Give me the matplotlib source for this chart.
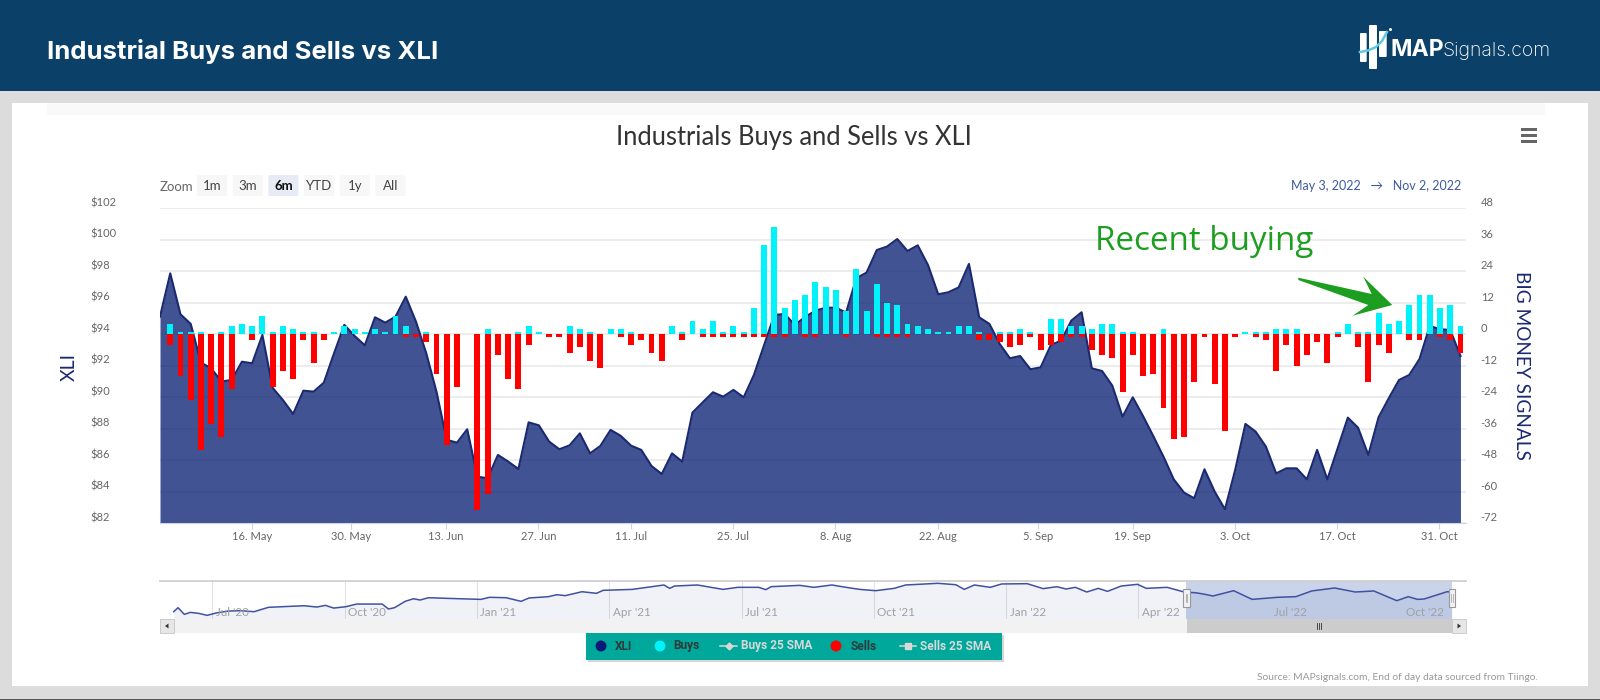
#!/usr/bin/env python3
"""Industrial buys and sells vs XLI, with the navigator strip underneath."""

import matplotlib
matplotlib.use('Agg')
import matplotlib.pyplot as plt
from matplotlib.patches import FancyBboxPatch, Polygon, Rectangle

W, H = 1600, 700

# --- Data ---

xli_close = [
    95.12, 97.87, 95.27, 94.66, 92.20, 91.84, 91.00, 91.10, 92.26, 92.16,
    93.96, 90.60, 89.83, 88.94, 90.42, 90.36, 90.93, 92.80, 94.60, 93.90,
    93.30, 95.08, 94.74, 95.12, 96.39, 94.80, 92.80, 90.36, 87.30, 87.12,
    87.97, 84.96, 84.86, 86.34, 85.92, 85.45, 88.41, 88.22, 87.19, 86.70,
    86.95, 87.71, 86.44, 86.91, 87.93, 87.55, 86.93, 86.66, 85.64, 85.13,
    86.44, 85.92, 89.03, 89.68, 90.32, 90.04, 90.47, 90.00, 91.42, 93.32,
    95.23, 95.29, 94.60, 95.10, 95.50, 95.69, 95.69, 95.38, 97.56, 97.92,
    99.35, 99.57, 100.05, 99.29, 99.65, 98.40, 96.54, 96.67, 96.98, 98.47,
    95.08, 94.66, 93.39, 92.48, 92.62, 91.78, 91.90, 93.32, 93.60, 94.87,
    95.40, 91.84, 91.67, 90.74, 88.77, 90.00, 88.81, 87.54, 86.23, 84.79,
    83.95, 83.59, 85.43, 84.01, 82.89, 85.39, 88.31, 87.82, 86.87, 85.17,
    85.49, 85.49, 84.79, 86.66, 84.79, 86.76, 88.71, 88.07, 86.34, 88.73,
    89.94, 91.10, 91.42, 92.43, 94.53, 94.32, 94.28, 92.62,
]

buys = [
    0, 4, 1, 1, 1, 0, 1, 3, 4, 3, 7,
    1, 3, 2, 1, 1, 0, 1, 3, 2, 1,
    2, 1, 7, 3, 0, 1, 0, 0, 0, 0,
    0, 2, 0, 0, 1, 3, 1, 0, 0, 3,
    2, 1, 0, 2, 2, 1, 0, 0, 0, 3,
    1, 5, 2, 5, 1, 3, 1, 10, 34, 41,
    10, 13, 15, 20, 18, 17, 9, 25, 9, 19,
    12, 11, 4, 3, 2, 1, 1, 3, 3, 1,
    0, 1, 1, 2, 1, 0, 6, 6, 3, 3,
    2, 4, 4, 1, 1, 0, 0, 2, 0, 0,
    0, 0, 0, 0, 0, 1, 1, 1, 2, 2,
    2, 0, 0, 0, 1, 4, 1, 1, 8, 4,
    5, 11, 15, 15, 10, 11, 3,
]

sells = [
    0, -4, -16, -25, -44, -34, -39, -21, 0, -2, 0,
    -20, -14, -17, -2, -11, -2, 0, 0, 0, 0,
    0, 0, 0, -1, -1, -3, -15, -42, -20, 0,
    -67, -61, -8, -17, -21, -4, 0, -1, -1, -7,
    -5, -10, -13, 0, -1, -4, -2, -7, -10, 0,
    -2, 0, -1, -1, -1, -1, -1, -1, -1, -1,
    -1, 0, -1, -1, 0, 0, -1, 0, 0, -1,
    -1, -1, -1, 0, 0, 0, 0, 0, 0, -2,
    -2, -3, -5, -4, -1, -6, -4, -3, -1, -1,
    -6, -8, -9, -22, -8, -16, -15, -28, -40, -39,
    -18, -1, -19, -37, -1, 0, -1, -2, -14, -4,
    -12, -8, -3, -11, -1, 0, -5, -18, -4, -7,
    0, -2, -2, 0, -1, -2, -7,
]

date_ticks = [8.95, 18.65, 27.9, 36.95, 46.0, 55.95, 65.95, 75.95, 85.75, 95.0, 105.0, 114.95, 124.95]
date_labels = ['16. May', '30. May', '13. Jun', '27. Jun', '11. Jul', '25. Jul', '8. Aug',
               '22. Aug', '5. Sep', '19. Sep', '3. Oct', '17. Oct', '31. Oct']
price_ticks = list(range(82, 103, 2))
signal_ticks = list(range(-72, 49, 12))

# navigator: months since Jul '20 and the long-run close
nav_months = [
    -0.88, -0.78, -0.64, -0.50, -0.31, -0.12, 0.08, 0.36, 0.65, 0.94, 1.27, 1.60, 2.08, 2.37,
    2.56, 2.75, 3.03, 3.27, 3.85, 3.99, 4.13, 4.37, 4.56, 4.71, 4.90, 5.32, 6.09, 6.28, 6.66,
    7.00, 7.18, 7.62, 7.81, 8.00, 8.38, 8.71, 8.86, 9.52, 10.24, 10.37, 10.48, 11.00, 11.58,
    11.91, 12.39, 12.55, 12.67, 13.32, 13.64, 14.05, 14.37, 14.68, 15.04, 15.46, 15.72, 16.45,
    16.86, 17.05, 17.28, 17.64, 17.90, 18.48, 18.84, 19.15, 19.36, 19.57, 19.83, 20.09, 20.30,
    20.61, 20.98, 21.18, 21.65, 22.07, 22.28, 22.48, 22.69, 23.16, 23.58, 24.15, 24.57, 24.93,
    25.45, 25.92, 26.34, 26.86, 27.12, 27.33, 27.48, 28.00, 28.11,
]
nav_close = [
    71.1, 75.4, 68.3, 70.4, 69.3, 67.2, 69.7, 71.8, 72.2, 71.1, 75.8, 76.5, 77.5, 76.1,
    77.9, 75.0, 76.5, 79.3, 79.3, 74.0, 75.4, 82.2, 85.0, 83.6, 86.1, 85.4, 84.3, 86.5, 86.1,
    82.2, 85.8, 87.2, 89.3, 88.3, 92.5, 90.8, 94.0, 95.0, 99.7, 96.1, 98.6, 99.7, 95.0,
    97.2, 97.2, 94.7, 97.9, 99.3, 97.2, 99.7, 97.2, 95.0, 93.6, 96.1, 99.7, 101.5,
    100.0, 95.0, 99.7, 97.2, 100.8, 101.1, 95.8, 97.9, 95.4, 97.2, 92.2, 96.1, 92.9,
    98.6, 100.4, 96.1, 97.2, 91.8, 91.5, 90.0, 87.9, 93.6, 84.3, 86.5, 87.2, 93.3,
    96.5, 92.2, 93.3, 82.9, 87.2, 84.3, 84.7, 92.5, 92.2,
]
nav_ticks = [0, 3, 6, 9, 12, 15, 18, 21, 24, 27]
nav_labels = ["Jul '20", "Oct '20", "Jan '21", "Apr '21", "Jul '21", "Oct '21",
              "Jan '22", "Apr '22", "Jul '22", "Oct '22"]

range_buttons = ['1m', '3m', '6m', 'YTD', '1y', 'All']

# --- Colours ---

HEADER = '#0b4169'
PAGE_GREY = '#dcdcdc'
NAVY = '#1b2a70'
AREA = '#112877'
CYAN = '#00f2fa'
RED = '#ff0000'
GRID = '#ececec'
AXIS_LINE = '#ccd6eb'
LABEL = '#666666'
GREEN = '#1e9e20'
TEAL = '#00a79b'


def px_axes(fig, left, top, right, bottom, **kw):
    """Axes placed by pixel edges, y counted from the top of the figure."""
    return fig.add_axes([left / W, 1 - bottom / H, (right - left) / W, (bottom - top) / H], **kw)


fig = plt.figure(figsize=(W / 100, H / 100), dpi=100, facecolor=PAGE_GREY)
plt.rcParams['font.family'] = 'Lato'

# --- Page background ---
bg = px_axes(fig, 0, 0, W, H, zorder=0)
bg.set_xlim(0, W)
bg.set_ylim(H, 0)
bg.axis('off')
bg.add_patch(Rectangle((12, 103), 1576, 583, fc='white', ec='none'))
bg.add_patch(Rectangle((47, 103), 1498, 12, fc='#f9f9f9', ec='none'))
bg.add_patch(Rectangle((0, 0), W, 91, fc=HEADER, ec='none'))
bg.add_patch(Rectangle((0, 698.5), W, 1.5, fc='#555555', ec='none'))
bg.text(47, 51, 'Industrial Buys and Sells vs XLI', color='white', fontsize=18.5,
        fontweight='bold', family='Inter', va='center')
bg.text(794, 137, 'Industrials Buys and Sells vs XLI', color='#333333', fontsize=18.4,
        ha='center', va='center')
bg.text(160, 187, 'Zoom', color='#666666', fontsize=9.5, va='center')

button_left = 197
for i, label in enumerate(range_buttons):
    selected = label == '6m'
    bg.add_patch(FancyBboxPatch((button_left + 35.7 * i + 1, 176), 28, 19, boxstyle='round,pad=1',
                                fc='#e6ebf5' if selected else '#f7f7f7', ec='none'))
    bg.text(button_left + 35.7 * i + 15, 186.5, label, ha='center', va='center', fontsize=9.5,
            color='#111111' if selected else '#444444', fontweight='bold' if selected else 'normal')

bg.text(1461, 186, 'May 3, 2022   \u2192   Nov 2, 2022', ha='right', va='center', fontsize=9,
        color='#3d5aa0', family=['Lato', 'DejaVu Sans'])
bg.text(69, 367, 'XLI', color=NAVY, fontsize=14, rotation=90, ha='center', va='center')
bg.text(1521, 365, 'BIG MONEY SIGNALS', color=NAVY, fontsize=13.7, rotation=270, ha='center', va='center')
bg.text(1538, 677, 'Source: MAPsignals.com, End of day data sourced from Tiingo.', color='#999999',
        fontsize=7.4, ha='right', va='center')
for y in [129, 135, 141]:
    bg.add_patch(Rectangle((1521, y - 1.3), 16, 2.8, fc='#666666', ec='none'))

# --- Main chart ---
ax = px_axes(fig, 160, 208.3, 1466, 523.3, zorder=2)
ax.patch.set_alpha(0)
ax.set_xlim(0, 127.54)
ax.set_ylim(82, 102)
days = list(range(len(xli_close)))
ax.set_yticks(price_ticks, [f'${v}' for v in price_ticks])
ax.grid(axis='y', color=GRID, lw=1.3)
ax.set_axisbelow(True)
ax.fill_between(days, xli_close, 82, color=AREA, alpha=0.8, lw=0, zorder=2)
ax.plot(days, xli_close, color=NAVY, lw=1.5, zorder=3)
ax.set_xticks(date_ticks, date_labels)
ax.tick_params(axis='x', length=4.5, color=AXIS_LINE, labelcolor=LABEL, labelsize=8, pad=0.8)
ax.tick_params(axis='y', length=0, labelcolor=LABEL, labelsize=8, pad=50)
plt.setp(ax.get_yticklabels(), ha='left', va='bottom')
for name in ['top', 'left', 'right']:
    ax.spines[name].set_visible(False)
ax.spines['bottom'].set_color(AXIS_LINE)

ax_sig = ax.twinx()
ax_sig.set_zorder(3)
ax_sig.patch.set_alpha(0)
ax_sig.set_ylim(-72, 48)
ax_sig.bar(days, sells, width=0.58, color=RED, lw=0)
ax_sig.bar(days, buys, width=0.58, color=CYAN, lw=0)
ax_sig.set_yticks(signal_ticks, [str(v) for v in signal_ticks])
ax_sig.tick_params(axis='y', length=0, labelcolor=LABEL, labelsize=8, pad=10.6)
plt.setp(ax_sig.get_yticklabels(), ha='left', va='bottom')
for spine in ax_sig.spines.values():
    spine.set_visible(False)

# --- Navigator ---
nav = px_axes(fig, 160, 580.7, 1466, 619, zorder=2)
nav.patch.set_alpha(0)
nav.set_xlim(-1.19, 28.43)
nav.set_ylim(63.3, 104.3)
nav.axvspan(22.07, 28.11, color='#c9d3e9', lw=0, zorder=1)
nav.fill_between(nav_months, nav_close, 63.3, color='#1b2a90', alpha=0.06, lw=0, zorder=1.5)
nav.plot(nav_months, nav_close, color='#3f51a0', lw=1.1, zorder=3)
nav.set_xticks(nav_ticks)
nav.set_yticks([])
nav.tick_params(axis='x', length=0, labelbottom=False)
nav.grid(axis='x', color='#e3e3e3', lw=0.8)
nav.set_axisbelow(True)
for name in ['left', 'right', 'bottom']:
    nav.spines[name].set_visible(False)
nav.spines['top'].set_color('#cccccc')
nav.spines['top'].set_linewidth(1.2)
for t, label in zip(nav_ticks, nav_labels):
    nav.annotate(label, (t, 63.3), xytext=(2.5, 0.8), textcoords='offset points', fontsize=8.4,
                 color='#a0a0a0', ha='left', va='bottom', zorder=4)

# --- Things drawn over the charts ---
fg = px_axes(fig, 0, 0, W, H, zorder=5)
fg.set_xlim(0, W)
fg.set_ylim(H, 0)
fg.axis('off')

# scrollbar
fg.add_patch(Rectangle((160, 619), 1306, 13.7, fc='#f2f2f2', ec='none'))
fg.add_patch(Rectangle((1186.6, 619), 265.4, 13.7, fc='#cccccc', ec='none'))
for x0, pts in [(160, [(168.5, 623.5), (168.5, 628.5), (165, 626)]),
                (1452, [(1457.5, 623.5), (1457.5, 628.5), (1461, 626)])]:
    fg.add_patch(Rectangle((x0, 619), 14, 13.7, fc='#e6e6e6', ec='#cccccc', lw=0.7))
    fg.add_patch(Polygon(pts, fc='#333333', ec='none'))
for x in [1317, 1319, 1321]:
    fg.plot([x, x], [623, 629], color='#333333', lw=0.6)
for x in [1186.6, 1452]:
    fg.add_patch(Rectangle((x - 3.4, 589), 6.8, 17.7, fc='#f2f2f2', ec='#999999', lw=0.8))
    fg.plot([x - 0.8, x - 0.8], [594, 602], color='#999999', lw=0.5)
    fg.plot([x + 0.8, x + 0.8], [594, 602], color='#999999', lw=0.5)

# legend box
fg.add_patch(Rectangle((588, 635), 416, 27, fc='#bbbbbb', ec='none', alpha=0.6))
fg.add_patch(Rectangle((586, 632.7), 416, 27.3, fc=TEAL, ec='none'))
legend_y = 646
fg.scatter([601, 660, 836], [legend_y] * 3, s=62, c=['#0a1a78', '#00f2fa', '#ff0000'], lw=0, zorder=3)
for x, text, color in [(615, 'XLI', '#2f3a3a'), (673, 'Buys', '#2f3a3a'), (741, 'Buys 25 SMA', '#d9d9d9'),
                       (851, 'Sells', '#2f3a3a'), (920, 'Sells 25 SMA', '#d9d9d9')]:
    fg.text(x, legend_y, text, color=color, fontsize=8.6, fontweight='bold', va='center', family='Roboto')
fg.plot([720, 737], [legend_y, legend_y], color='#d9d9d9', lw=1.1)
fg.plot([728.5], [legend_y], marker='D', ms=3.5, color='#d9d9d9')
fg.plot([900, 916], [legend_y, legend_y], color='#d9d9d9', lw=1.1)
fg.plot([908], [legend_y], marker='s', ms=5, color='#d9d9d9')

# annotation
fg.text(1095, 241, 'Recent buying', color=GREEN, fontsize=23.9, family='Open Sans', va='center')
fg.add_patch(Polygon([(1298.3, 277.7), (1371.7, 294), (1363.3, 276.7), (1392.3, 305),
                      (1352.7, 315.7), (1368.3, 305), (1298.3, 280)], fc=GREEN, ec='none'))

# logo
for x0, y0, w, h in [(1360, 33, 6.7, 29), (1369, 25, 8, 44), (1379, 31, 7.7, 26)]:
    fg.add_patch(FancyBboxPatch((x0 + 1, y0 + 1), w - 2, h - 2, boxstyle='round,pad=1', fc='white', ec='none'))
fg.plot([1360, 1368, 1376, 1382, 1387], [52, 50.5, 47, 41, 32], color='#5ecae0', lw=1.8)
fg.plot([1390], [29], marker='o', ms=1.2, color='white')
fg.text(1391, 50, 'MAP', color='white', fontsize=16.6, fontweight='bold', family='Inter', va='center')
fg.text(1443, 51, 'Signals.com', color='white', fontsize=14, family='Inter', fontweight='light', va='center')

fig.savefig('out.png', dpi=100, facecolor=PAGE_GREY)
plt.close(fig)
